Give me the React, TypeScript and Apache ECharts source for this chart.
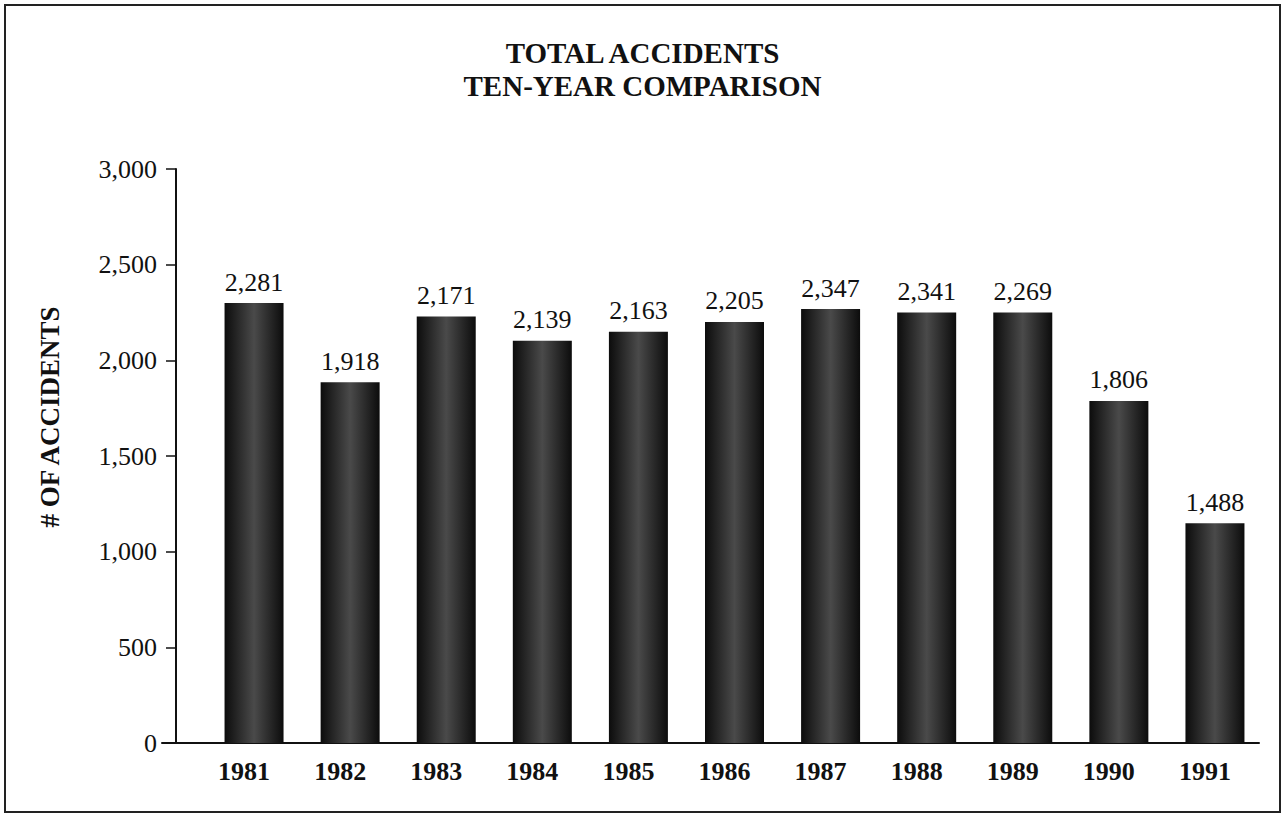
import React, { useEffect, useRef } from "react";
import * as echarts from "echarts";

const years = ["1981", "1982", "1983", "1984", "1985", "1986", "1987", "1988", "1989", "1990", "1991"];
// bar heights as drawn in the picture
const barHeights = [2299, 1886, 2229, 2102, 2150, 2201, 2268, 2250, 2250, 1788, 1148];
// totals printed above the bars
const printedTotals = [2281, 1918, 2171, 2139, 2163, 2205, 2347, 2341, 2269, 1806, 1488];
const yMin = 0;
const yMax = 3000;
const yStep = 500;

const titleLines = ["TOTAL ACCIDENTS", "TEN-YEAR COMPARISON"];
const yAxisTitle = "# OF ACCIDENTS";

const FONT = "Liberation Serif";

export default function App() {
  const ref = useRef<HTMLDivElement>(null);

  useEffect(() => {
    if (!ref.current) return;
    const chart = echarts.init(ref.current, null, { renderer: "svg" });
    const barFill = new echarts.graphic.LinearGradient(0, 0, 1, 0, [
      { offset: 0, color: "#0c0c0c" },
      { offset: 0.5, color: "#4a4a4a" },
      { offset: 1, color: "#0c0c0c" },
    ]);
    chart.setOption({
      animation: false,
      backgroundColor: "#ffffff",
      textStyle: { fontFamily: FONT },
      title: {
        text: titleLines.join("\n"),
        left: "center",
        top: 31,
        textStyle: {
          fontFamily: FONT,
          fontSize: 29,
          fontWeight: "bold",
          lineHeight: 33.5,
          color: "#111",
        },
      },
      grid: [
        { left: 206, right: 22, top: 169, bottom: 72 },
        { left: 162, right: 26, top: 169, bottom: 72 },
      ],
      xAxis: [
        {
          type: "category",
          gridIndex: 0,
          data: years,
          axisLine: { show: false },
          axisTick: { show: false },
          axisLabel: {
            fontFamily: FONT,
            fontSize: 26,
            fontWeight: "bold",
            color: "#111",
            margin: 15,
            padding: [0, 20, 0, 0],
          },
        },
        {
          type: "value",
          gridIndex: 1,
          min: 0,
          max: 1,
          axisLine: { show: true, lineStyle: { color: "#111", width: 2 } },
          axisTick: { show: false },
          axisLabel: { show: false },
          splitLine: { show: false },
        },
      ],
      yAxis: [
        {
          type: "value",
          gridIndex: 0,
          min: yMin,
          max: yMax,
          interval: yStep,
          offset: 30,
          axisLine: { show: true, lineStyle: { color: "#111", width: 2 } },
          axisTick: { show: true, inside: false, length: 10, lineStyle: { color: "#111", width: 1.5 } },
          splitLine: { show: false },
          axisLabel: {
            fontFamily: FONT,
            fontSize: 26,
            color: "#111",
            margin: 19,
            formatter: (v: number) => v.toLocaleString("en-US"),
          },
        },
        {
          type: "value",
          gridIndex: 1,
          min: 0,
          max: 1,
          show: false,
        },
      ],
      series: [
        {
          type: "bar",
          xAxisIndex: 0,
          yAxisIndex: 0,
          data: barHeights,
          barWidth: 59,
          itemStyle: { color: barFill },
          label: {
            show: true,
            position: "top",
            distance: 8,
            fontFamily: FONT,
            fontSize: 26,
            color: "#111",
            formatter: (p: any) => printedTotals[p.dataIndex].toLocaleString("en-US"),
          },
        },
      ],
      graphic: [
        {
          type: "rect",
          shape: { x: 5, y: 5, width: 1275, height: 807 },
          style: { fill: "none", stroke: "#222", lineWidth: 2 },
          silent: true,
        },
        {
          type: "text",
          x: 50,
          y: 417,
          rotation: Math.PI / 2,
          style: {
            text: yAxisTitle,
            fontFamily: FONT,
            fontSize: 27,
            fontWeight: "bold",
            fill: "#111",
            align: "center",
            verticalAlign: "middle",
          },
          silent: true,
        },
      ],
    });
    return () => chart.dispose();
  }, []);

  return (
    <div
      ref={ref}
      style={{ position: "fixed", left: 0, top: 0, width: 1285, height: 815, background: "#fff" }}
    />
  );
}
